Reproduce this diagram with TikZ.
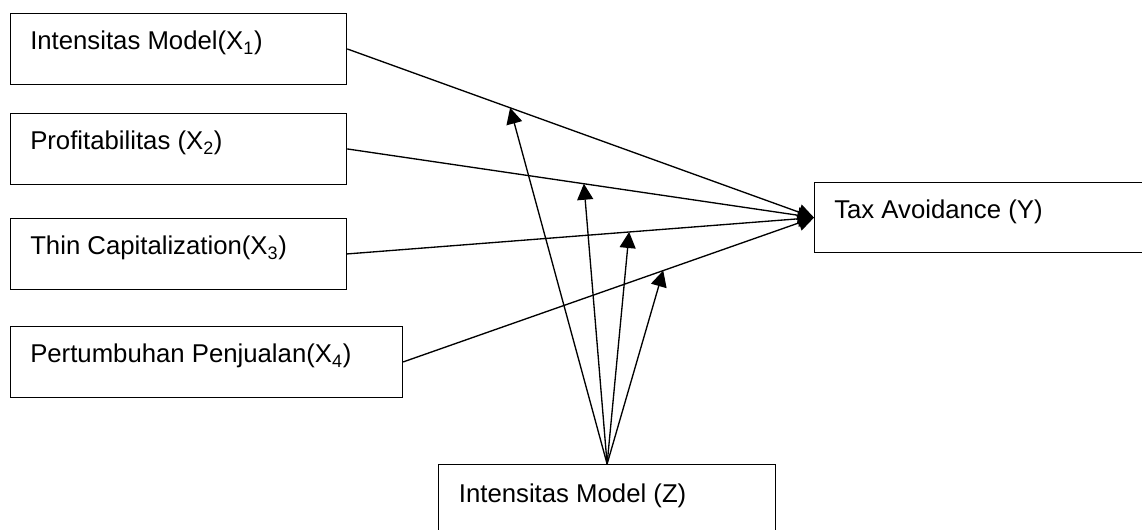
\documentclass[tikz,border=0pt]{standalone}
\usepackage{fontspec}
\setmainfont{Liberation Sans}
\usetikzlibrary{arrows.meta}
\begin{document}
\begin{tikzpicture}[x=0.75pt,y=-0.75pt,
  box/.style={draw=black,line width=0.9pt,rectangle,inner sep=0pt,anchor=north west,minimum height=53pt},
  lbl/.style={anchor=base west,inner sep=0pt,font=\fontsize{19.3}{23}\selectfont},
  link/.style={line width=1pt,-{Triangle[length=12pt,width=12pt]}}]
\useasboundingbox (0,0) rectangle (1142,530);
\clip (0,0) rectangle (1142,530);
% boxes
\node[box,minimum width=252pt] (b1) at (10,13) {};
\node[box,minimum width=252pt] (b2) at (10,113) {};
\node[box,minimum width=252pt] (b3) at (10,218) {};
\node[box,minimum width=294pt] (b4) at (10,326) {};
\node[box,minimum width=262pt,minimum height=52.5pt] (y) at (814,182) {};
\node[box,minimum width=252.75pt,minimum height=60pt] (z) at (438,464) {};
% labels
\node[lbl] (t1) at ([xshift=15pt,yshift=-27.75pt]b1.north west) {Intensitas Model(X\textsubscript{1})};
\node[lbl] (t2) at ([xshift=15pt,yshift=-27.75pt]b2.north west) {Profitabilitas (X\textsubscript{2})};
\node[lbl] (t3) at ([xshift=15pt,yshift=-27.75pt]b3.north west) {Thin Capitalization(X\textsubscript{3})};
\node[lbl] (t4) at ([xshift=15pt,yshift=-27.75pt]b4.north west) {Pertumbuhan Penjualan(X\textsubscript{4})};
\node[lbl] (ty) at ([xshift=15pt,yshift=-27.75pt]y.north west) {Tax Avoidance (Y)};
\node[lbl] (tz) at ([xshift=15.5pt,yshift=-29pt]z.north west) {Intensitas Model (Z)};
% main connectors
\draw[link] (b1.east) -- coordinate[pos=0.349] (m1) (y.west);
\draw[link] (b2.east) -- coordinate[pos=0.507] (m2) (y.west);
\draw[link] (b3.east) -- coordinate[pos=0.604] (m3) (y.west);
\draw[link] (b4.east) -- coordinate[pos=0.633] (m4) (y.west);
% moderator connectors
\draw[link] (z.north) -- (m1);
\draw[link] (z.north) -- (m2);
\draw[link] (z.north) -- (m3);
\draw[link] (z.north) -- (m4);
\end{tikzpicture}
\end{document}
